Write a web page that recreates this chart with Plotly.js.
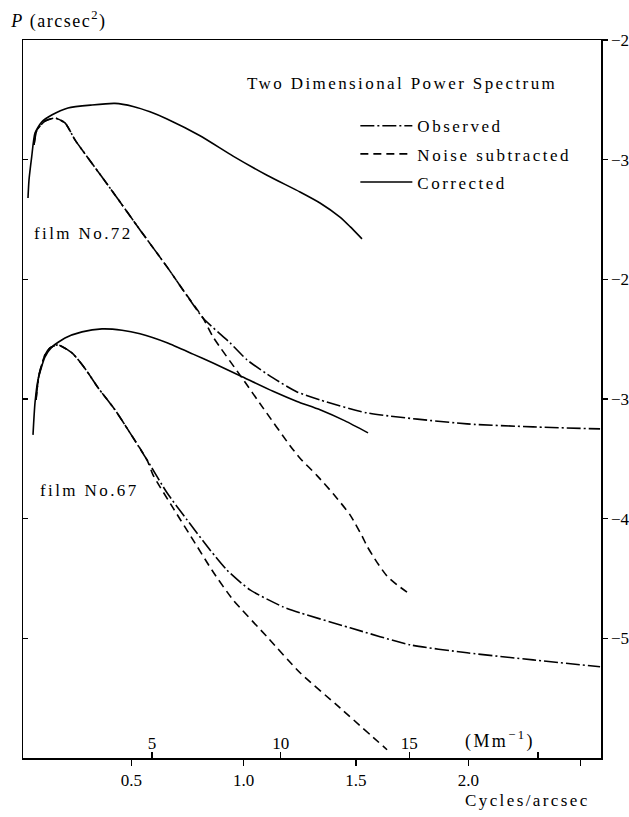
<!DOCTYPE html>
<html>
<head>
<meta charset="utf-8">
<script src="https://cdn.plot.ly/plotly-3.0.1.min.js"></script>
<style>
  body { margin: 0; padding: 0; background: #fff; }
  #chart { width: 629px; height: 817px; }
  .legendtext { letter-spacing: 2.5px; }
  .annotation-text { letter-spacing: 2.4px; }
  .gtitle { letter-spacing: 1.5px; }
</style>
</head>
<body>
<div id="chart"></div>
<script>
// Frequency in cycles/arcsec; P as log10 (arcsec^2) on a common offset scale
// (film No.72 curves are shifted up by 2 decades relative to film No.67).

// film No.72
const f72_corr_x = [0.040, 0.0445, 0.0565, 0.0712, 0.101, 0.1456, 0.218, 0.325, 0.427, 0.508, 0.583, 0.659, 0.806, 0.953, 1.104, 1.251, 1.340, 1.429, 1.474, 1.527];
const f72_corr_y = [-1.320, -1.170, -0.977, -0.777, -0.685, -0.627, -0.568, -0.543, -0.530, -0.555, -0.600, -0.660, -0.800, -0.970, -1.130, -1.270, -1.362, -1.480, -1.560, -1.662];

const f72_obs_x = [0.0668, 0.0801, 0.1158, 0.1603, 0.2048, 0.2493, 0.3072, 0.3695, 0.4274, 0.5387, 0.6590, 0.7302, 0.8192, 0.9395, 1.0151, 1.1309, 1.2378, 1.3402, 1.5494, 1.9947, 2.2885, 2.5868];
const f72_obs_y = [-0.877, -0.752, -0.677, -0.652, -0.693, -0.835, -0.986, -1.145, -1.295, -1.587, -1.896, -2.089, -2.323, -2.531, -2.673, -2.824, -2.941, -3.008, -3.116, -3.208, -3.233, -3.250];

const f72_noise_x = [0.0668, 0.0801, 0.1158, 0.1603, 0.2048, 0.2493, 0.3072, 0.3695, 0.4274, 0.5387, 0.6590, 0.7302, 0.8192, 0.8638, 0.9929, 1.0864, 1.2066, 1.2511, 1.3268, 1.3980, 1.4737, 1.5272, 1.5494, 1.5939, 1.6385, 1.6830, 1.7320];
const f72_noise_y = [-0.877, -0.752, -0.677, -0.652, -0.693, -0.835, -0.986, -1.145, -1.295, -1.587, -1.896, -2.089, -2.323, -2.481, -2.824, -3.074, -3.390, -3.495, -3.640, -3.790, -3.968, -4.145, -4.230, -4.365, -4.480, -4.553, -4.620];

// film No.67
const f67_corr_x = [0.0623, 0.0712, 0.0846, 0.1158, 0.1469, 0.2048, 0.2805, 0.3695, 0.4586, 0.5387, 0.6590, 0.7747, 0.8638, 0.9840, 1.1309, 1.2378, 1.3402, 1.4515, 1.5539];
const f67_corr_y = [-3.300, -3.033, -2.840, -2.648, -2.565, -2.490, -2.439, -2.414, -2.425, -2.455, -2.530, -2.625, -2.700, -2.805, -2.935, -3.020, -3.090, -3.183, -3.283];

const f67_obs_x = [0.0757, 0.0890, 0.1158, 0.1380, 0.1736, 0.2360, 0.2939, 0.3517, 0.4274, 0.4942, 0.5699, 0.6590, 0.7480, 0.8504, 0.9261, 1.0285, 1.1754, 1.2511, 1.4737, 1.7409, 1.9947, 2.2885, 2.5868];
const f67_obs_y = [-3.008, -2.799, -2.632, -2.573, -2.548, -2.615, -2.745, -2.905, -3.091, -3.283, -3.509, -3.784, -4.010, -4.261, -4.430, -4.595, -4.737, -4.787, -4.912, -5.054, -5.121, -5.180, -5.238];

const f67_noise_x = [0.0757, 0.0890, 0.1158, 0.1380, 0.1736, 0.2360, 0.2939, 0.3517, 0.4274, 0.4942, 0.5699, 0.5966, 0.6857, 0.7747, 0.8638, 0.9528, 1.1042, 1.2511, 1.4292, 1.6385];
const f67_noise_y = [-3.008, -2.799, -2.632, -2.573, -2.548, -2.615, -2.745, -2.905, -3.091, -3.283, -3.509, -3.634, -3.910, -4.177, -4.444, -4.678, -4.987, -5.288, -5.581, -5.931];

// Axis ticks
const yTickVals = [0, -1, -2, -3, -4, -5];
const yTickText = ['\u22122', '\u22123', '\u22122', '\u22123', '\u22124', '\u22125'];
const xTickVals = [0.5, 1.0, 1.5, 2.0, 2.5];
const xTickText = ['0.5', '1.0', '1.5', '2.0', ' '];
const mmTickVals = [5, 10, 15, 20];
const mmTickText = ['5', '10', '15', ' '];

const serif = 'Liberation Serif, Times New Roman, serif';
const LW = 1.6;
const DASHDOT = '14px,3px,2px,3px';
const DASH = '8px,5px';

function tr(x, y, name, dash, group, show, yax) {
  return {
    x: x, y: y, name: name, type: 'scatter', mode: 'lines',
    line: {color: '#000', width: LW, dash: dash, shape: 'spline', smoothing: 0.6},
    legendgroup: group, showlegend: show, xaxis: 'x', yaxis: yax,
    hoverinfo: 'skip'
  };
}

const data = [
  tr(f72_obs_x, f72_obs_y, 'Observed', DASHDOT, 'obs', true, 'y2'),
  tr(f72_noise_x, f72_noise_y, 'Noise subtracted', DASH, 'noise', true, 'y2'),
  tr(f72_corr_x, f72_corr_y, 'Corrected', 'solid', 'corr', true, 'y2'),
  tr(f67_obs_x, f67_obs_y, 'Observed', DASHDOT, 'obs', false, 'y'),
  tr(f67_noise_x, f67_noise_y, 'Noise subtracted', DASH, 'noise', false, 'y'),
  tr(f67_corr_x, f67_corr_y, 'Corrected', 'solid', 'corr', false, 'y'),
  {x: [], y: [], xaxis: 'x2', yaxis: 'y', type: 'scatter', mode: 'lines', showlegend: false, hoverinfo: 'skip'}
];

const layout = {
  width: 629, height: 817,
  margin: {l: 23, r: 28, t: 40, b: 59},
  paper_bgcolor: '#fff', plot_bgcolor: '#fff',
  font: {family: serif, size: 16, color: '#000'},
  showlegend: true,
  title: {
    text: '<i>P</i> (arcsec<sup>2</sup>)',
    x: 0.018, xanchor: 'left', xref: 'container',
    y: 0.975, yanchor: 'middle', yref: 'container',
    font: {family: serif, size: 18, color: '#000'}
  },
  legend: {
    x: 0.575, xanchor: 'left', y: 0.905, yanchor: 'top',
    bgcolor: 'rgba(0,0,0,0)', borderwidth: 0,
    font: {family: serif, size: 17, color: '#000'},
    traceorder: 'grouped', tracegroupgap: 3,
    itemwidth: 52
  },
  xaxis: {
    range: [0.0178, 2.591], tickvals: xTickVals, ticktext: xTickText,
    ticks: 'outside', ticklen: 6, tickwidth: 1.3, tickcolor: '#000',
    showline: true, linecolor: '#000', linewidth: 1.5, mirror: true,
    showgrid: false, zeroline: false,
    tickfont: {family: serif, size: 17, color: '#000'}
  },
  xaxis2: {
    overlaying: 'x', side: 'bottom', anchor: 'y',
    range: [-0.012, 22.45], tickvals: mmTickVals, ticktext: mmTickText,
    ticks: 'inside', ticklen: 6, tickwidth: 1.3, tickcolor: '#000',
    ticklabelposition: 'inside', showline: false,
    showgrid: false, zeroline: false,
    tickfont: {family: serif, size: 17, color: '#000'}
  },
  yaxis: {
    range: [-6, 0], tickvals: yTickVals, showticklabels: false,
    ticks: 'inside', ticklen: 5, tickwidth: 1.3, tickcolor: '#000',
    showline: true, linecolor: '#000', linewidth: 1.5,
    showgrid: false, zeroline: false
  },
  yaxis2: {
    overlaying: 'y', side: 'right', anchor: 'x',
    range: [-6, 0], tickvals: yTickVals, ticktext: yTickText,
    ticks: 'outside', ticklen: 5, tickwidth: 1.3, tickcolor: '#000',
    showline: true, linecolor: '#000', linewidth: 1.5,
    showgrid: false, zeroline: false,
    tickfont: {family: serif, size: 17, color: '#000'}
  },
  annotations: [
    {text: 'Two Dimensional Power Spectrum', xref: 'paper', yref: 'paper', x: 0.384, y: 0.940,
     xanchor: 'left', yanchor: 'middle', showarrow: false, font: {family: serif, size: 17, color: '#000'}},
    {text: 'film No.72', xref: 'paper', yref: 'paper', x: 0.0156, y: 0.731,
     xanchor: 'left', yanchor: 'middle', showarrow: false, font: {family: serif, size: 17, color: '#000'}},
    {text: 'film No.67', xref: 'paper', yref: 'paper', x: 0.026, y: 0.372,
     xanchor: 'left', yanchor: 'middle', showarrow: false, font: {family: serif, size: 17, color: '#000'}},
    {text: '(Mm<sup>\u22121</sup>)', xref: 'paper', yref: 'paper', x: 0.761, y: 0.025,
     xanchor: 'left', yanchor: 'middle', showarrow: false, font: {family: serif, size: 18, color: '#000'}},
    {text: 'Cycles/arcsec', xref: 'paper', yref: 'paper', x: 0.761, y: -0.0585,
     xanchor: 'left', yanchor: 'middle', showarrow: false, font: {family: serif, size: 17, color: '#000'}}
  ]
};

Plotly.newPlot('chart', data, layout, {staticPlot: true, displayModeBar: false});
</script>
</body>
</html>
